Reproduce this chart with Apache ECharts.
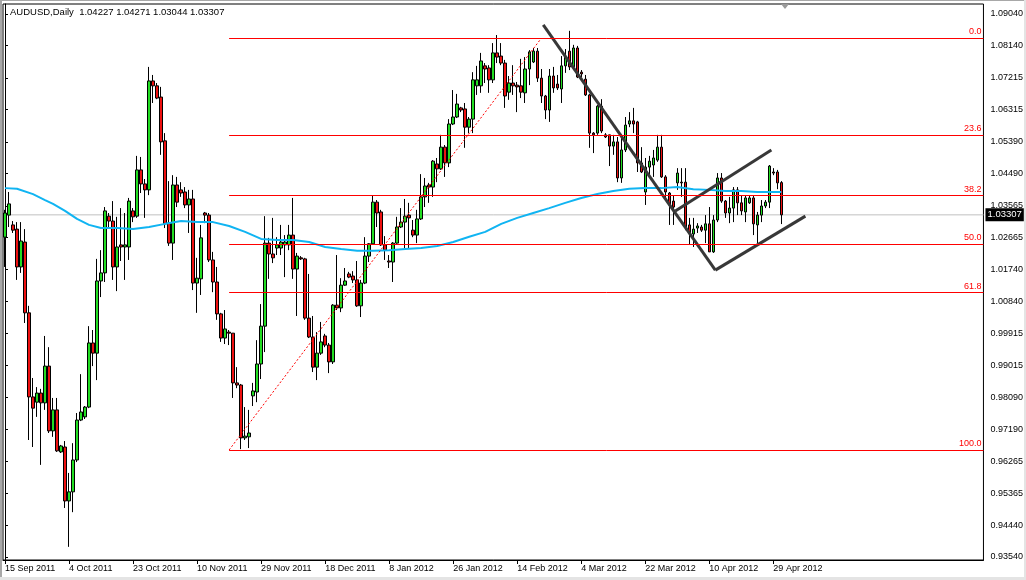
<!DOCTYPE html>
<html><head><meta charset="utf-8">
<script src="https://cdn.jsdelivr.net/npm/echarts@6/dist/echarts.min.js"></script>
<style>html,body{margin:0;padding:0;background:#fff;}#c{width:1026px;height:580px;}</style>
</head><body><div id="c"></div>
<script>
const FONT = 'Liberation Sans';
const chartTitle = 'AUDUSD,Daily  1.04227 1.04271 1.03044 1.03307';
const tickBars = [0,16,32,48,64,80,96,112,128,144,160,176,192];
const dateLabels = ['15 Sep 2011','4 Oct 2011','23 Oct 2011','10 Nov 2011','29 Nov 2011','18 Dec 2011','8 Jan 2012','26 Jan 2012','14 Feb 2012','4 Mar 2012','22 Mar 2012','10 Apr 2012','29 Apr 2012'];
const priceTickLabels = ['0.93540','0.94440','0.95365','0.96265','0.97190','0.98090','0.99015','0.99915','1.00840','1.01740','1.02665','1.03565','1.04490','1.05390','1.06315','1.07215','1.08140','1.09040'];

const openPrices = [1.0267,1.0330,1.0302,1.0290,1.0182,1.0253,1.0051,0.9811,0.9796,0.9822,0.9794,0.9899,0.9714,0.9774,0.9654,0.9668,0.9514,0.9540,0.9631,0.9745,
0.9754,0.9782,0.9965,0.9936,1.0142,1.0165,1.0327,1.0313,1.0182,1.0245,1.0239,1.0239,1.0342,1.0327,1.0459,1.0419,1.0402,1.0713,1.0699,1.0667,
1.0542,1.0307,1.0250,1.0416,1.0402,1.0396,1.0359,1.0376,1.0136,1.0148,1.0336,1.0330,1.0202,1.0139,1.0048,0.9979,0.9996,0.9993,0.9851,0.9845,
0.9694,0.9697,0.9814,0.9825,0.9905,1.0013,1.0250,1.0219,1.0236,1.0236,1.0245,1.0245,1.0273,1.0176,1.0208,1.0205,1.0036,0.9982,0.9896,0.9936,
0.9985,0.9959,0.9911,1.0073,1.0065,1.0130,1.0162,1.0156,1.0145,1.0071,1.0136,1.0213,1.0248,1.0367,1.0339,1.0245,1.0199,1.0196,1.0250,1.0296,
1.0310,1.0330,1.0287,1.0273,1.0319,1.0382,1.0416,1.0410,1.0476,1.0462,1.0524,1.0479,1.0590,1.0610,1.0636,1.0633,1.0581,1.0604,1.0699,1.0699,
1.0756,1.0750,1.0716,1.0793,1.0784,1.0764,1.0681,1.0707,1.0701,1.0699,1.0679,1.0747,1.0767,1.0798,1.0721,1.0670,1.0630,1.0727,1.0704,1.0690,
1.0756,1.0798,1.0753,1.0807,1.0738,1.0718,1.0673,1.0564,1.0564,1.0641,1.0559,1.0559,1.0527,1.0539,1.0436,1.0516,1.0590,1.0599,1.0596,1.0479,
1.0396,1.0467,1.0473,1.0487,1.0524,1.0439,1.0393,1.0370,1.0422,1.0424,1.0424,1.0302,1.0276,1.0293,1.0296,1.0287,1.0305,1.0225,1.0316,1.0436,
1.0370,1.0336,1.0350,1.0402,1.0365,1.0339,1.0365,1.0379,1.0302,1.0330,1.0356,1.0367,1.0453,1.0453,1.04227];

const closePrices = [1.0336,1.0362,1.0287,1.0182,1.0256,1.0051,0.9811,0.9779,0.9822,0.9794,0.9899,0.9714,0.9774,0.9657,0.9671,0.9514,0.9540,0.9631,0.9745,0.9768,
0.9782,0.9965,0.9936,1.0142,1.0165,1.0342,1.0313,1.0182,1.0239,1.0239,1.0245,1.0370,1.0325,1.0459,1.0419,1.0402,1.0713,1.0699,1.0664,1.0539,
1.0305,1.0250,1.0416,1.0367,1.0393,1.0359,1.0376,1.0136,1.0150,1.0265,1.0330,1.0202,1.0139,1.0048,0.9979,1.0005,0.9993,0.9851,0.9845,0.9694,
0.9699,0.9708,0.9828,0.9905,1.0013,1.0250,1.0219,1.0208,1.0245,1.0253,1.0253,1.0273,1.0176,1.0213,1.0205,1.0036,0.9982,0.9896,0.9936,0.9968,
0.9959,0.9911,1.0073,1.0065,1.0130,1.0142,1.0153,1.0145,1.0071,1.0136,1.0213,1.0248,1.0367,1.0336,1.0245,1.0230,1.0196,1.0250,1.0296,1.0310,
1.0327,1.0322,1.0273,1.0319,1.0382,1.0413,1.0410,1.0484,1.0462,1.0524,1.0479,1.0590,1.0610,1.0647,1.0630,1.0581,1.0604,1.0716,1.0716,1.0770,
1.0747,1.0716,1.0793,1.0781,1.0764,1.0670,1.0707,1.0699,1.0696,1.0681,1.0747,1.0796,1.0798,1.0721,1.0670,1.0630,1.0727,1.0693,1.0693,1.0756,
1.0781,1.0753,1.0807,1.0724,1.0733,1.0673,1.0564,1.0559,1.0641,1.0570,1.0553,1.0527,1.0539,1.0436,1.0516,1.0587,1.0599,1.0590,1.0479,1.0453,
1.0467,1.0484,1.0493,1.0524,1.0439,1.0396,1.0359,1.0353,1.0450,1.0422,1.0296,1.0279,1.0290,1.0299,1.0287,1.0305,1.0225,1.0316,1.0436,1.0370,
1.0336,1.0350,1.0402,1.0365,1.0342,1.0379,1.0379,1.0305,1.0330,1.0356,1.0367,1.0470,1.0450,1.0422,1.03307];

const lowPrices = [1.0182,1.0296,1.0279,1.0145,1.0165,1.0022,0.9688,0.9668,0.9754,0.9617,0.9774,0.9708,0.9697,0.9654,0.9651,0.9494,0.9383,0.9482,0.9625,0.9742,
0.9748,0.9779,0.9899,0.9859,1.0096,1.0139,1.0296,1.0145,1.0113,1.0199,1.0145,1.0202,1.0310,1.0322,1.0393,1.0322,1.0387,1.0650,1.0661,1.0502,
1.0293,1.0242,1.0202,1.0353,1.0382,1.0350,1.0279,1.0116,1.0051,1.0102,1.0307,1.0196,1.0110,1.0031,0.9968,0.9962,0.9959,0.9808,0.9836,0.9662,
0.9688,0.9665,0.9785,0.9796,0.9862,0.9939,1.0148,1.0193,1.0216,1.0216,1.0153,1.0230,1.0148,1.0042,1.0202,1.0031,0.9979,0.9882,0.9859,0.9931,
0.9953,0.9879,0.9905,1.0059,1.0053,1.0128,1.0150,1.0136,1.0068,1.0039,1.0133,1.0196,1.0245,1.0296,1.0242,1.0202,1.0179,1.0139,1.0248,1.0293,
1.0236,1.0236,1.0267,1.0250,1.0316,1.0353,1.0365,1.0382,1.0424,1.0459,1.0439,1.0467,1.0587,1.0607,1.0624,1.0522,1.0564,1.0564,1.0673,1.0679,
1.0707,1.0679,1.0707,1.0764,1.0758,1.0636,1.0659,1.0673,1.0624,1.0664,1.0650,1.0701,1.0764,1.0710,1.0650,1.0604,1.0596,1.0679,1.0687,1.0650,
1.0736,1.0744,1.0744,1.0721,1.0724,1.0670,1.0522,1.0507,1.0559,1.0564,1.0550,1.0470,1.0502,1.0424,1.0422,1.0510,1.0581,1.0564,1.0453,1.0450,
1.0359,1.0444,1.0439,1.0482,1.0436,1.0373,1.0302,1.0302,1.0402,1.0382,1.0287,1.0245,1.0239,1.0279,1.0282,1.0250,1.0225,1.0222,1.0310,1.0365,
1.0322,1.0307,1.0310,1.0330,1.0330,1.0310,1.0362,1.0273,1.0250,1.0310,1.0350,1.0350,1.0444,1.0404,1.03044];

const highPrices = [1.0345,1.0396,1.0313,1.0310,1.0310,1.0290,1.0071,0.9865,0.9839,0.9834,0.9985,0.9953,0.9808,0.9808,0.9674,0.9685,0.9594,0.9679,0.9765,0.9876,
0.9785,1.0013,1.0002,1.0205,1.0230,1.0353,1.0336,1.0370,1.0325,1.0350,1.0336,1.0379,1.0350,1.0499,1.0496,1.0433,1.0753,1.0730,1.0707,1.0696,
1.0564,1.0427,1.0444,1.0439,1.0424,1.0410,1.0402,1.0402,1.0208,1.0302,1.0339,1.0336,1.0225,1.0182,1.0051,1.0059,1.0002,0.9993,0.9896,0.9848,
0.9782,0.9774,0.9851,0.9973,1.0076,1.0327,1.0265,1.0322,1.0267,1.0302,1.0273,1.0302,1.0379,1.0222,1.0213,1.0208,1.0162,1.0042,0.9996,1.0025,
0.9991,0.9965,1.0076,1.0216,1.0150,1.0179,1.0168,1.0170,1.0199,1.0145,1.0267,1.0250,1.0385,1.0373,1.0345,1.0270,1.0216,1.0253,1.0325,1.0350,
1.0376,1.0365,1.0316,1.0345,1.0447,1.0436,1.0422,1.0487,1.0493,1.0559,1.0530,1.0604,1.0687,1.0676,1.0639,1.0650,1.0610,1.0738,1.0756,1.0793,
1.0764,1.0758,1.0821,1.0844,1.0821,1.0773,1.0727,1.0758,1.0710,1.0776,1.0781,1.0801,1.0807,1.0807,1.0747,1.0673,1.0747,1.0753,1.0730,1.0784,
1.0804,1.0856,1.0816,1.0813,1.0744,1.0730,1.0676,1.0567,1.0644,1.0661,1.0564,1.0559,1.0559,1.0553,1.0559,1.0610,1.0624,1.0636,1.0599,1.0524,
1.0493,1.0499,1.0516,1.0559,1.0559,1.0444,1.0396,1.0385,1.0464,1.0464,1.0464,1.0322,1.0322,1.0307,1.0302,1.0330,1.0353,1.0330,1.0450,1.0450,
1.0373,1.0382,1.0410,1.0410,1.0387,1.0387,1.0385,1.0385,1.0339,1.0373,1.0373,1.0473,1.0464,1.0459,1.04271];

// moving average read at sampled bars: [bar index, price]
const maPoints = [[0,1.0407],[3,1.0405],[7,1.0390],[10,1.0373],[12,1.0362],[15,1.0342],[18,1.0319],[21,1.0302],[24,1.0293],[28,1.0293],
[32,1.0290],[36,1.0296],[40,1.0305],[44,1.0313],[48,1.0310],[52,1.0310],[56,1.0299],[60,1.0282],[64,1.0262],[68,1.0259],[72,1.0259],
[76,1.0253],[80,1.0239],[84,1.0233],[88,1.0228],[92,1.0228],[96,1.0230],[100,1.0233],[104,1.0236],[108,1.0242],[112,1.0253],[116,1.0268],
[120,1.0282],[124,1.0305],[128,1.0322],[132,1.0336],[136,1.0350],[140,1.0365],[144,1.0379],[148,1.0390],[152,1.0399],[156,1.0405],
[160,1.0407],[164,1.0407],[168,1.0410],[172,1.0404],[176,1.0402],[180,1.0399],[184,1.0399],[188,1.0396],[194,1.0396]];

const fibLevels = [1.08347,1.05574,1.03858,1.02471,1.01084,0.96595];
const fibNames = ['0.0','23.6','38.2','50.0','61.8','100.0'];
const fibStartBar = 56;
const fibDiagonal = [[56,0.96595],[134,1.08347]];
const trendDown = [[134.5,1.0873],[177.5,1.0173]];
const channelLow = [[177.5,1.0173],[200,1.0327]];
const channelHigh = [[167.5,1.0342],[191.5,1.0516]];
const lastPrice = 1.03307;
const totalSlots = 245;
const priceMin = 0.934548, priceMax = 1.093258;

const slots = Array.from({length: totalSlots}, (_, k) => String(k));
const candles = openPrices.map((o, k) => [o, closePrices[k], lowPrices[k], highPrices[k]]);
const tickValues = priceTickLabels.map(Number);
const isTickBar = (idx) => tickBars.indexOf(idx) >= 0;
const xEnd = totalSlots - 0.5;

const chart = echarts.init(document.getElementById('c'), null, {renderer: 'canvas'});
chart.setOption({
  animation: false,
  backgroundColor: '#fff',
  textStyle: {fontFamily: FONT},
  title: {text: chartTitle, left: 10, top: 7, padding: 0,
    textStyle: {fontSize: 9.5, fontWeight: 'normal', color: '#000', fontFamily: FONT}},
  graphic: [
    {type: 'rect', shape: {x: 0, y: 0, width: 2, height: 580}, style: {fill: '#a8a8a8'}, silent: true},
    {type: 'rect', shape: {x: 0, y: 0, width: 1026, height: 1}, style: {fill: '#a8a8a8'}, silent: true},
    {type: 'rect', shape: {x: 0, y: 577, width: 1026, height: 3}, style: {fill: '#e4e4e4'}, silent: true},
    {type: 'rect', shape: {x: 1024, y: 0, width: 2, height: 580}, style: {fill: '#e4e4e4'}, silent: true},
    {type: 'polygon', shape: {points: [[781, 4], [789, 4], [785, 9]]}, style: {fill: '#9a9a9a'}, silent: true}
  ],
  grid: {left: 3, top: 4, width: 981, height: 556, show: true, borderColor: '#000', borderWidth: 1, backgroundColor: '#fff'},
  xAxis: [
    {type: 'category', data: slots, boundaryGap: true,
      axisLine: {show: true, lineStyle: {color: '#000', width: 1}},
      axisTick: {show: true, interval: (i) => isTickBar(i), alignWithLabel: true, length: 4, lineStyle: {color: '#000'}},
      axisLabel: {show: true, interval: (i) => isTickBar(i), align: 'left', margin: 4,
        formatter: (v, i) => dateLabels[tickBars.indexOf(Number(v))] || '',
        fontSize: 9, color: '#000', fontFamily: FONT},
      splitLine: {show: false}},
    {type: 'value', min: -0.5, max: xEnd, show: false}
  ],
  yAxis: [{
    type: 'value', position: 'right', min: priceMin, max: priceMax,
    axisLine: {show: true, lineStyle: {color: '#000', width: 1}},
    axisTick: {show: true, customValues: tickValues, length: 3, lineStyle: {color: '#000'}},
    axisLabel: {show: true, customValues: tickValues, margin: 7, fontSize: 9, color: '#000', fontFamily: FONT,
      formatter: (v) => { const k = tickValues.findIndex(t => Math.abs(t - v) < 1e-7); return k >= 0 ? priceTickLabels[k] : ''; }},
    splitLine: {show: false}
  }],
  series: [
    {type: 'line', name: 'lastPrice', xAxisIndex: 1, yAxisIndex: 0, data: [[-0.5, lastPrice], [xEnd, lastPrice]],
      symbol: 'none', z: 1, clip: false,
      lineStyle: {color: '#c0c0c0', width: 1},
      endLabel: {show: true, formatter: () => lastPrice.toFixed(5), color: '#fff', backgroundColor: '#000',
        padding: [2, 2, 1, 2], distance: 2, fontSize: 9.5, fontFamily: FONT}},
    {type: 'candlestick', name: 'AUDUSD', xAxisIndex: 0, yAxisIndex: 0, data: candles, barWidth: 3, z: 2,
      itemStyle: {color: '#22dd22', color0: '#ee1111', borderColor: '#000', borderColor0: '#000', borderWidth: 1}},
    {type: 'line', name: 'MA', xAxisIndex: 1, yAxisIndex: 0, data: maPoints, symbol: 'none', z: 3,
      lineStyle: {color: '#10b4f2', width: 2}},
    {type: 'line', name: 'Fibo', xAxisIndex: 1, yAxisIndex: 0, data: fibDiagonal, symbol: 'none', z: 3,
      lineStyle: {color: '#ff0000', width: 1, type: [2, 2]},
      markLine: {silent: true, symbol: ['none', 'none'], animation: false,
        lineStyle: {color: '#ff0000', type: 'solid', width: 1},
        label: {position: 'insideEndTop', distance: 2, formatter: (p) => p.name, color: '#ff0000', fontSize: 9, fontFamily: FONT},
        data: fibLevels.map((v, k) => [{coord: [fibStartBar, v], name: fibNames[k]}, {coord: [xEnd, v]}])}},
    {type: 'line', name: 'trend', xAxisIndex: 1, yAxisIndex: 0, data: trendDown, symbol: 'none', z: 4,
      lineStyle: {color: '#383838', width: 3}},
    {type: 'line', name: 'channelLow', xAxisIndex: 1, yAxisIndex: 0, data: channelLow, symbol: 'none', z: 4,
      lineStyle: {color: '#383838', width: 3}},
    {type: 'line', name: 'channelHigh', xAxisIndex: 1, yAxisIndex: 0, data: channelHigh, symbol: 'none', z: 4,
      lineStyle: {color: '#383838', width: 3}}
  ]
});
</script></body></html>
